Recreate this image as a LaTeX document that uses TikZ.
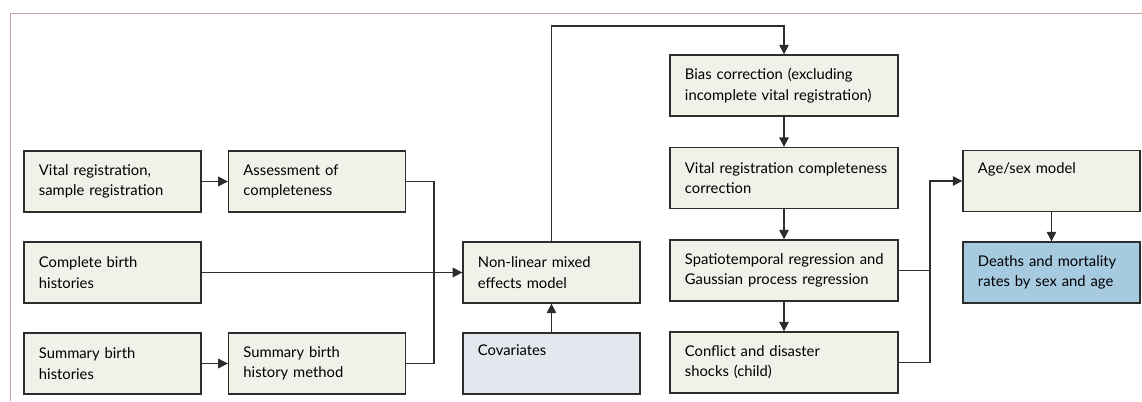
\documentclass[tikz,border=0pt]{standalone}
\usepackage{fontspec}
\setmainfont{Lato}
\usetikzlibrary{arrows.meta}

\definecolor{boxfill}{RGB}{241,241,233}
\definecolor{covfill}{RGB}{226,232,238}
\definecolor{outfill}{RGB}{166,202,224}
\definecolor{edge}{RGB}{45,45,45}
\definecolor{frame}{RGB}{200,160,168}

\tikzset{
  stage/.style={draw=edge, line width=0.9pt, fill=boxfill, rectangle,
    align=left, inner xsep=0.375cm, inner ysep=0pt, minimum height=1.525cm,
    font=\fontsize{10.5}{14.4}\selectfont},
  narrow/.style={stage, text width=3.675cm},
  wide/.style={stage, text width=4.95cm},
  link/.style={draw=edge, line width=0.75pt},
  arr/.style={link, -{Triangle[length=2.4mm,width=2.4mm]}}
}

\begin{document}
\begin{tikzpicture}[x=0.025cm,y=-0.025cm]
	\useasboundingbox (0,0) rectangle (1142,401);
	% frame of the panel
	\draw[frame, line width=0.5pt] (10,401) -- (10,13) -- (1142,13);

	% input column
	\node[narrow] (vr) at (112.5,181.5) {Vital registration,\\sample registration};
	\node[narrow] (cbh) at (112.5,272.5) {Complete birth\\histories};
	\node[narrow] (sbh) at (112.5,363.5) {Summary birth\\histories};

	% processing of inputs
	\node[narrow] (assess) at (317,181.5) {Assessment of\\completeness};
	\node[narrow] (sbhm) at (317,363.5) {Summary birth\\history method};

	% first stage model
	\node[narrow] (nlme) at (551.5,272.5) {Non-linear mixed\\effects model};
	\node[narrow, fill=covfill] (cov) at (551.5,363.5) {Covariates\\\strut};

	% corrections and regression
	\node[wide] (bias) at (784,85.5) {\mbox{Bias correction (excluding}\\\mbox{incomplete vital registration)}};
	\node[wide] (vrc) at (784,178) {\mbox{Vital registration completeness}\\correction};
	\node[wide] (spat) at (784,270.5) {\mbox{Spatiotemporal regression and}\\\mbox{Gaussian process regression}};
	\node[wide] (conf) at (784,362.5) {Conflict and disaster\\shocks (child)};

	% outputs
	\node[narrow] (age) at (1051.5,181) {Age/sex model\\\strut};
	\node[narrow, fill=outfill] (death) at (1051.5,272.5) {Deaths and mortality\\rates by sex and age};

	% junctions
	\coordinate (jl) at (434,272);
	\coordinate (jt) at (784,26);
	\coordinate (jr) at (930,270.5);

	% connectors
	\draw[arr] (vr) -- (assess);
	\draw[link] (assess.east) -| (jl) |- (sbhm.east);
	\draw[arr] (sbh) -- (sbhm);
	\draw[arr] (cbh) -- (nlme);
	\draw[arr] (cov) -- (nlme);
	\draw[arr] (nlme.north) |- (jt) -- (bias.north);
	\draw[arr] (bias) -- (vrc);
	\draw[arr] (vrc) -- (spat);
	\draw[arr] (spat) -- (conf);
	\draw[link] (spat.east) -- (jr);
	\draw[arr] (conf.east) -| (jr) |- (age.west);
	\draw[arr] (age) -- (death);
\end{tikzpicture}
\end{document}
